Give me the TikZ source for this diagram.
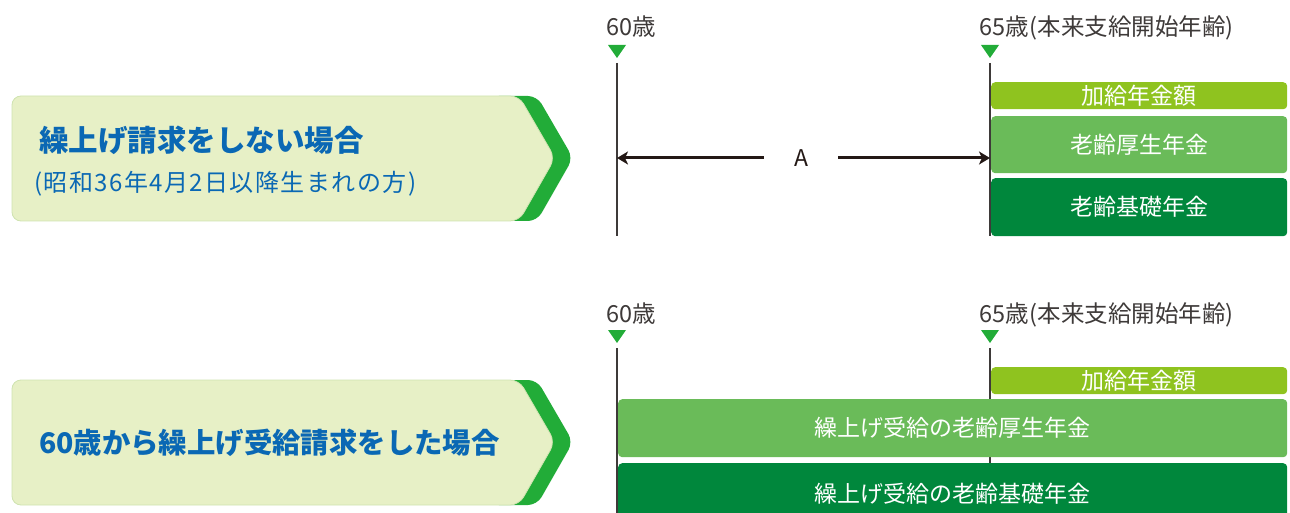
\documentclass[tikz,border=0pt]{standalone}
\usepackage{fontspec}
\setmainfont{Noto Sans CJK JP}
\usetikzlibrary{arrows.meta}
\definecolor{boxfill}{HTML}{E7F0C6}
\definecolor{boxedge}{HTML}{CFE3B0}
\definecolor{chev}{HTML}{22AC38}
\definecolor{titleblue}{HTML}{0A68B4}
\definecolor{cA}{HTML}{8FC31F}
\definecolor{cB}{HTML}{6ABB59}
\definecolor{cC}{HTML}{00873C}
\definecolor{tri}{HTML}{22AC38}
\definecolor{ln}{HTML}{3E3A39}
\definecolor{arrc}{HTML}{231815}
\tikzset{
  bar/.style={rounded corners=4pt, inner sep=0pt, anchor=north west},
  bartxt/.style={text=white, font=\fontsize{23}{23}\selectfont, inner sep=0pt},
  agelab/.style={text=ln, font=\fontsize{23.5}{23.5}\selectfont, anchor=base west, inner sep=0pt},
  tline/.style={draw=ln, line width=1.5pt},
  arr/.style={draw=arrc, line width=3pt, -{Stealth[length=11pt,width=13pt,inset=3pt]}},
  ttl/.style={text=titleblue, font=\fontsize{29.5}{29.5}\selectfont\bfseries, anchor=base west, inner sep=0pt},
  ttlb/.style={text=titleblue, font=\fontsize{28.4}{28.4}\selectfont\bfseries, anchor=base west, inner sep=0pt},
  sub/.style={text=titleblue, font=\fontsize{24}{24}\selectfont\addfontfeature{LetterSpace=6}, anchor=base west, inner sep=0pt}
}
\begin{document}
\begin{tikzpicture}[x=1pt,y=-1pt]
\useasboundingbox (0,0) rectangle (1290,513);
% ---------- top panel ----------
\fill[chev, rounded corners=9pt] (490,96) -- (537,96) -- (573,158) -- (537,221) -- (490,221) -- cycle;
\filldraw[fill=boxfill, draw=boxedge, line width=0.8pt, rounded corners=9pt] (12,96) -- (519,96) -- (555,158) -- (519,221) -- (12,221) -- cycle;
\node[ttl] (t1) at (39,152) {繰上げ請求をしない場合};
\node[sub] (s1) at (34,192) {(昭和36年4月2日以降生まれの方)};
% timeline top
\node[agelab] (a60) at (606,36) {60歳};
\node[agelab] (a65) at (979,36) {65歳\hspace{1pt}(本来支給開始年齢)};
\coordinate (p60) at (617,58);
\coordinate (p65) at (990,58);
\fill[tri] (608,45) -- (626,45) -- (p60) -- cycle;
\fill[tri] (981,45) -- (999,45) -- (p65) -- cycle;
\coordinate (l60a) at (617,63);
\coordinate (l60b) at (617,236);
\coordinate (l65a) at (990,63);
\coordinate (l65b) at (990,236);
\draw[tline] (l60a) -- (l60b);
\draw[tline] (l65a) -- (l65b);
\node[bar, fill=cA, minimum width=296pt, minimum height=27pt] (k1) at (991,82) {};
\node[bartxt] at (k1.center) {加給年金額};
\node[bar, fill=cB, minimum width=296pt, minimum height=57pt] (ko1) at (991,116) {};
\node[bartxt] at (ko1.center) {老齢厚生年金};
\node[bar, fill=cC, minimum width=296pt, minimum height=58pt] (ki1) at (991,178) {};
\node[bartxt] at (ki1.center) {老齢基礎年金};
\node[text=arrc, font=\fontsize{23}{23}\selectfont, minimum width=74pt, inner sep=0pt] (A) at (801,158) {A};
\draw[arr] (A.west) -- (l60a |- A);
\draw[arr] (A.east) -- (l65a |- A);
% ---------- bottom panel ----------
\fill[chev, rounded corners=9pt] (490,380) -- (537,380) -- (573,442) -- (537,505) -- (490,505) -- cycle;
\filldraw[fill=boxfill, draw=boxedge, line width=0.8pt, rounded corners=9pt] (12,380) -- (519,380) -- (555,442) -- (519,505) -- (12,505) -- cycle;
\node[ttlb] (t2) at (39,453) {60歳から繰上げ受給請求をした場合};
\node[agelab] (b60) at (606,322) {60歳};
\node[agelab] (b65) at (979,322) {65歳\hspace{1pt}(本来支給開始年齢)};
\coordinate (q60) at (617,343);
\coordinate (q65) at (990,343);
\fill[tri] (608,330) -- (626,330) -- (q60) -- cycle;
\fill[tri] (981,330) -- (999,330) -- (q65) -- cycle;
\coordinate (m60a) at (617,348);
\coordinate (m60b) at (617,513);
\coordinate (m65a) at (990,348);
\coordinate (m65b) at (990,470);
\draw[tline] (m60a) -- (m60b);
\draw[tline] (m65a) -- (m65b);
\node[bar, fill=cA, minimum width=296pt, minimum height=27pt] (k2) at (991,367) {};
\node[bartxt] at (k2.center) {加給年金額};
\node[bar, fill=cB, minimum width=669pt, minimum height=58pt] (ko2) at (618,399) {};
\node[bartxt] at (ko2.center) {繰上げ受給の老齢厚生年金};
\node[bar, fill=cC, minimum width=669pt, minimum height=60pt] (ki2) at (618,463) {};
\node[bartxt] at ([yshift=-1pt]ki2.center) {繰上げ受給の老齢基礎年金};
\end{tikzpicture}
\end{document}
